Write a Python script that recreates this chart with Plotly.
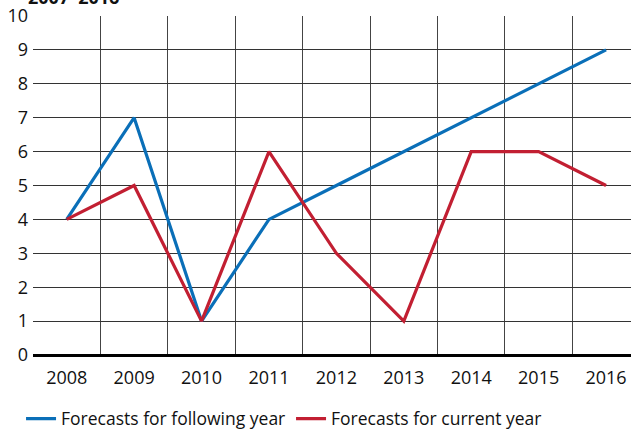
import plotly.graph_objects as go

years = ["2008", "2009", "2010", "2011", "2012", "2013", "2014", "2015", "2016"]
following_year = [4, 7, 1, 4, 5, 6, 7, 8, 9]
current_year = [4, 5, 1, 6, 3, 1, 6, 6, 5]
y_ticks = [0, 1, 2, 3, 4, 5, 6, 7, 8, 9, 10]
title_text = "2007–2016"

x = list(range(len(years)))

fig = go.Figure()
fig.add_trace(go.Scatter(x=x, y=following_year, mode="lines", name="Forecasts for following year",
                         line=dict(color="#0a6fb8", width=3.2)))
fig.add_trace(go.Scatter(x=x, y=current_year, mode="lines", name="Forecasts for current year",
                         line=dict(color="#c21f32", width=3.2)))

font = "Open Sans"
fig.update_layout(
    width=631, height=432,
    margin=dict(l=33, r=0, t=16, b=77, autoexpand=False),
    plot_bgcolor="white", paper_bgcolor="white",
    font=dict(family=font, size=18, color="#111"),
    showlegend=True,
    legend=dict(orientation="h", x=-0.02, xanchor="left", y=-0.135, yanchor="top",
                font=dict(size=17.5, family=font, color="#111"),
                entrywidth=225, entrywidthmode="pixels",
                tracegroupgap=0, traceorder="normal"),
    annotations=[dict(text="<b>" + title_text + "</b>", xref="paper", yref="paper",
                      x=-0.012, y=1.0, xanchor="left", yanchor="bottom", yshift=5,
                      showarrow=False, font=dict(size=18, family=font, color="#111"))],
)
fig.update_xaxes(
    range=[-0.5, 8.37], tickvals=x, ticktext=years, showgrid=False,
    minor=dict(tickmode="array", tickvals=[i + 0.5 for i in range(-1, len(years))],
               showgrid=True, gridcolor="#444", gridwidth=1),
    showline=False, zeroline=False, ticks="", tickfont=dict(size=18), ticklabelstandoff=10,
    fixedrange=True, automargin=False,
)
fig.update_yaxes(
    range=[0, 10], tickvals=y_ticks, showgrid=True, gridcolor="#333", gridwidth=1,
    zeroline=True, zerolinecolor="#000", zerolinewidth=2.5,
    showline=False, ticks="", tickfont=dict(size=18), ticklabelstandoff=4,
    automargin=False, fixedrange=True,
)
fig.write_html("out.html", config={"displayModeBar": False},
               post_script="document.body.style.margin='0';")
